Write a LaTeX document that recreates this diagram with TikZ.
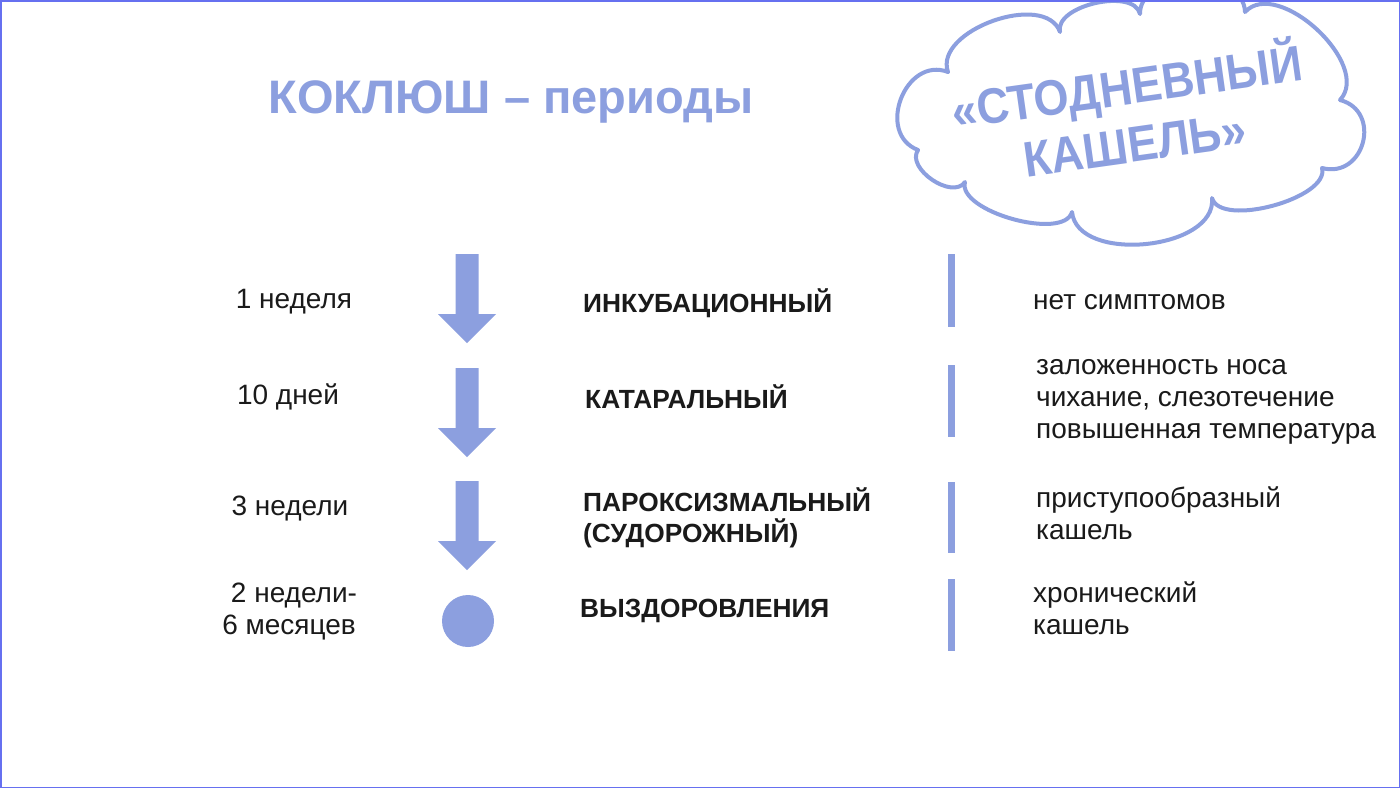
\documentclass[tikz,border=0pt]{standalone}
\usepackage{fontspec}
\setmainfont{Liberation Sans}
\definecolor{pb}{HTML}{8C9FDF}
\definecolor{framec}{HTML}{6670F0}
\definecolor{ink}{HTML}{1A1A1A}
\tikzset{
  body/.style={font=\fontsize{28}{32}\selectfont, text=ink, inner sep=0pt},
  stage/.style={font=\bfseries\fontsize{26.3}{32}\selectfont, text=ink, inner sep=0pt, anchor=base west},
  bar/.style={fill=pb, draw=none},
  cloudline/.style={draw=pb, line width=4pt, line join=round, line cap=round},
  cloudtext/.style={rotate=8, anchor=base, text=pb, inner sep=0pt, xscale=0.9,
    align=center, font=\bfseries\fontsize{50}{58}\selectfont},
}
\newcommand{\downarr}[3]{% name, x, top y
  \fill[pb] (#2-11.5,#3) -- (#2+11.5,#3) -- (#2+11.5,#3+60) -- (#2+29,#3+60)
    -- (#2,#3+89) -- (#2-29,#3+60) -- (#2-11.5,#3+60) -- cycle;
  \coordinate (#1) at (#2,#3+44);}
\begin{document}
\begin{tikzpicture}[x=1pt,y=-1pt]
\useasboundingbox (0,0) rectangle (1400,788);
\fill[white] (0,0) rectangle (1400,788);

% cloud
\begin{scope}
\clip (0,0) rectangle (1400,788);
\coordinate (cA) at (948,72);
\coordinate (cB) at (1060,32);
\coordinate (cC) at (1140,14);
\coordinate (cD) at (1245,12);
\coordinate (cE) at (1340,100);
\coordinate (cF) at (1322,168);
\coordinate (cG) at (1212,198);
\coordinate (cH) at (1072,212);
\coordinate (cI) at (965,182);
\coordinate (cK) at (918,150);
\draw[cloudline]
  (cA) to[bend left=90, looseness=0.95] (cB)
       to[bend left=90, looseness=0.85] (cC)
       to[bend left=90, looseness=1.05] (cD)
       to[bend left=90, looseness=0.95] (cE)
       to[bend left=90, looseness=1.6] (cF)
       to[bend left=90, looseness=0.7] (cG)
       to[bend left=90, looseness=0.95] (cH)
       to[bend left=90, looseness=0.7] (cI)
       to[bend left=90, looseness=1.0] (cK)
       to[bend left=90, looseness=1.4] (cA);
\end{scope}
\node[cloudtext] (cl) at (1137.4,162) {«СТОДНЕВНЫЙ\\КАШЕЛЬ»};

% title
\node[anchor=base, text=pb, inner sep=0pt, font=\bfseries\fontsize{47}{47}\selectfont]
  (title) at (511,113) {КОКЛЮШ – периоды};

% left column
\node[body, anchor=base] (d1) at (294,308) {1 неделя};
\node[body, anchor=base] (d2) at (288,404) {10 дней};
\node[body, anchor=base] (d3) at (290,515) {3 недели};
\node[body, anchor=base] (d4a) at (294,602) {2 недели-};
\node[body, anchor=base] (d4b) at (289,634) {6 месяцев};

% arrows and dot
\downarr{a1}{467}{254}
\downarr{a2}{467}{368}
\downarr{a3}{467}{481}
\fill[pb] (468,621) circle (26);
\coordinate (dot) at (468,621);

% stage names
\node[stage] (s1) at (583,312) {ИНКУБАЦИОННЫЙ};
\node[stage] (s2) at (585,408) {КАТАРАЛЬНЫЙ};
\node[stage] (s3a) at (583,511) {ПАРОКСИЗМАЛЬНЫЙ};
\node[stage] (s3b) at (583,542) {(СУДОРОЖНЫЙ)};
\node[stage] (s4) at (580,617) {ВЫЗДОРОВЛЕНИЯ};

% bars
\fill[bar] (947.5,254) rectangle (954.5,327);
\fill[bar] (947.5,365) rectangle (954.5,437);
\fill[bar] (947.5,482) rectangle (954.5,553);
\fill[bar] (947.5,579) rectangle (954.5,651);

% symptoms
\node[body, anchor=base west] (r1) at (1033,309) {нет симптомов};
\node[body, anchor=base west] (r2a) at (1036,374) {заложенность носа};
\node[body, anchor=base west] (r2b) at (1036,406) {чихание, слезотечение};
\node[body, anchor=base west] (r2c) at (1036,438) {повышенная температура};
\node[body, anchor=base west] (r3a) at (1036,507) {приступообразный};
\node[body, anchor=base west] (r3b) at (1036,539) {кашель};
\node[body, anchor=base west] (r4a) at (1033,602) {хронический};
\node[body, anchor=base west] (r4b) at (1033,634) {кашель};

% frame
\draw[framec, line width=1.5pt] (0.75,0.75) rectangle (1399.25,787.25);
\end{tikzpicture}
\end{document}
